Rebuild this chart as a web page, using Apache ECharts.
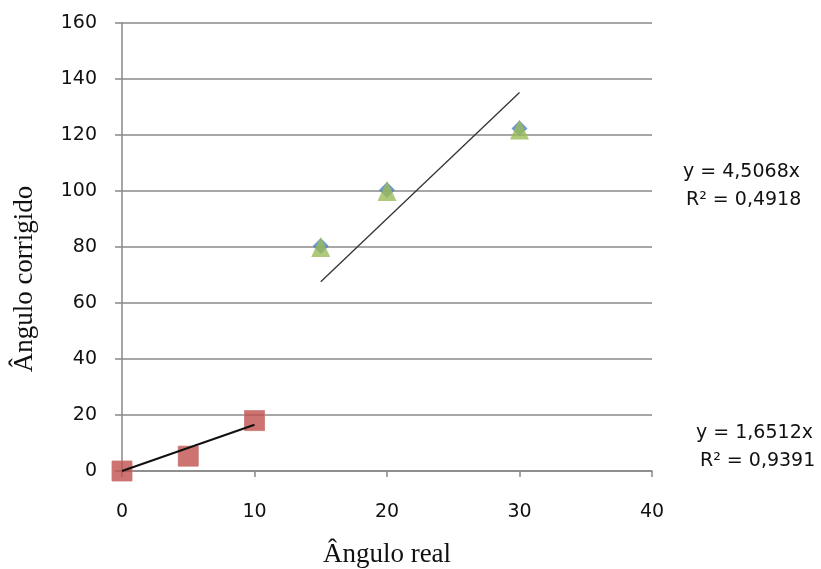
<!DOCTYPE html>
<html>
<head>
<meta charset="utf-8">
<script src="https://cdn.jsdelivr.net/npm/echarts@6/dist/echarts.min.js"></script>
<style>
  html, body { margin: 0; padding: 0; background: #fff; }
  #chart { width: 821px; height: 569px; }
</style>
</head>
<body>
<div id="chart"></div>
<script>
// data
var realLow = [0, 5, 10];
var corrLow = [0, 5.3, 18];
var realHigh = [15, 20, 30];
var corrHigh = [80, 100, 122];

// trendlines (through origin), as printed on the chart
var slopeLow = 1.6512, r2Low = '0,9391';
var slopeHigh = 4.5068, r2High = '0,4918';

function pairs(xs, ys) {
    return xs.map(function (x, i) { return [x, ys[i]]; });
}
function trend(xs, k) {
    var a = Math.min.apply(null, xs), b = Math.max.apply(null, xs);
    return [[a, k * a], [b, k * b]];
}
function fmt(k) { return String(k).replace('.', ','); }

var chart = echarts.init(document.getElementById('chart'));
var tickFont = { color: '#111', fontSize: 19, fontFamily: 'DejaVu Sans' };
var eqFont = '19px "DejaVu Sans"';

var option = {
    animation: false,
    grid: { left: 122, right: 169, top: 23, bottom: 98, outerBoundsMode: 'none', containLabel: false },
    xAxis: {
        type: 'value', min: 0, max: 40, interval: 10,
        name: 'Ângulo real', nameLocation: 'middle', nameGap: 70,
        nameTextStyle: { color: '#111', fontSize: 27, fontFamily: 'Liberation Serif' },
        axisLine: { lineStyle: { color: '#888', width: 1.5 } },
        axisTick: { show: true, length: 6, lineStyle: { color: '#888', width: 1.5 } },
        axisLabel: Object.assign({ margin: 32 }, tickFont),
        splitLine: { show: false }
    },
    yAxis: {
        type: 'value', min: 0, max: 160, interval: 20,
        axisLine: { show: true, lineStyle: { color: '#888', width: 1.5 } },
        axisTick: { show: true, length: 7, lineStyle: { color: '#888', width: 1.5 } },
        axisLabel: Object.assign({ margin: 25 }, tickFont),
        splitLine: { lineStyle: { color: '#8a8a8a', width: 1.5 } }
    },
    series: [
        {
            type: 'scatter', data: pairs(realHigh, corrHigh),
            symbol: 'diamond', symbolSize: [16, 16], symbolOffset: [0, -1],
            itemStyle: { color: '#4F81BD' }, z: 2
        },
        {
            type: 'scatter', data: pairs(realHigh, corrHigh),
            symbol: 'triangle', symbolSize: [19, 20],
            itemStyle: { color: '#9BBB59' }, z: 3
        },
        {
            type: 'scatter', data: pairs(realLow, corrLow),
            symbol: 'rect', symbolSize: 20,
            itemStyle: { color: '#C0504D', borderColor: '#cc7573', borderWidth: 1 }, z: 3
        },
        {
            type: 'line', data: trend(realHigh, slopeHigh), symbol: 'none',
            lineStyle: { color: '#333', width: 1.3 }, z: 4
        },
        {
            type: 'line', data: trend(realLow, slopeLow), symbol: 'none',
            lineStyle: { color: '#111', width: 2 }, z: 4
        }
    ],
    graphic: [
        { type: 'text', x: 25, y: 279, rotation: Math.PI / 2,
          style: { text: 'Ângulo corrigido', fill: '#111', font: '27px "Liberation Serif"', align: 'center', verticalAlign: 'middle' } },
        { type: 'text', x: 683, y: 172, style: { text: 'y = ' + fmt(slopeHigh) + 'x', fill: '#111', font: eqFont, verticalAlign: 'middle' } },
        { type: 'text', x: 686, y: 200, style: { text: 'R² = ' + r2High, fill: '#111', font: eqFont, verticalAlign: 'middle' } },
        { type: 'text', x: 696, y: 433, style: { text: 'y = ' + fmt(slopeLow) + 'x', fill: '#111', font: eqFont, verticalAlign: 'middle' } },
        { type: 'text', x: 700, y: 461, style: { text: 'R² = ' + r2Low, fill: '#111', font: eqFont, verticalAlign: 'middle' } }
    ]
};
chart.setOption(option);
</script>
</body>
</html>
